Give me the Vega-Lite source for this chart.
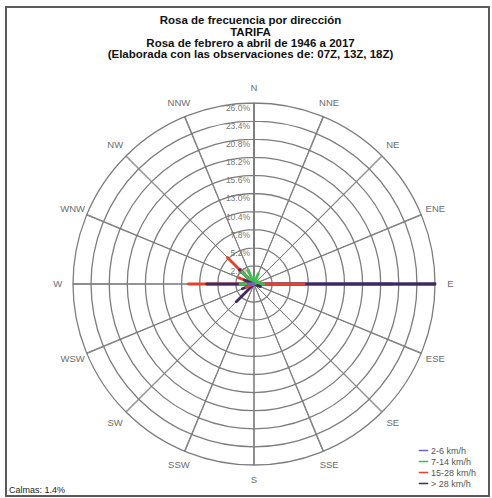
{
  "$schema": "https://vega.github.io/schema/vega-lite/v6.json",
  "width": 483,
  "height": 489,
  "autosize": "none",
  "padding": {"left": 6, "top": 7, "right": 3, "bottom": 2},
  "background": "white",
  "config": {
    "view": {"stroke": "#5a5a5a", "strokeWidth": 2},
    "font": "Liberation Sans"
  },
  "datasets": {
    "rings": [
      {"ring": 2.6, "lab": "2.6%"},
      {"ring": 5.2, "lab": "5.2%"},
      {"ring": 7.8, "lab": "7.8%"},
      {"ring": 10.4, "lab": "10.4%"},
      {"ring": 13.0, "lab": "13.0%"},
      {"ring": 15.6, "lab": "15.6%"},
      {"ring": 18.2, "lab": "18.2%"},
      {"ring": 20.8, "lab": "20.8%"},
      {"ring": 23.4, "lab": "23.4%"},
      {"ring": 26.0, "lab": "26.0%"}
    ],
    "dirs": [
      {"deg": 0, "name": "N"},
      {"deg": 22.5, "name": "NNE"},
      {"deg": 45, "name": "NE"},
      {"deg": 67.5, "name": "ENE"},
      {"deg": 90, "name": "E"},
      {"deg": 112.5, "name": "ESE"},
      {"deg": 135, "name": "SE"},
      {"deg": 157.5, "name": "SSE"},
      {"deg": 180, "name": "S"},
      {"deg": 202.5, "name": "SSW"},
      {"deg": 225, "name": "SW"},
      {"deg": 247.5, "name": "WSW"},
      {"deg": 270, "name": "W"},
      {"deg": 292.5, "name": "WNW"},
      {"deg": 315, "name": "NW"},
      {"deg": 337.5, "name": "NNW"}
    ],
    "rays": [
      {"dir": 90, "cls": "2-6 km/h", "pct": 19.8},
      {"dir": 90, "cls": "> 28 km/h", "pct": 26.0},
      {"dir": 270, "cls": "15-28 km/h", "pct": 9.4},
      {"dir": 90, "cls": "15-28 km/h", "pct": 7.2},
      {"dir": 270, "cls": "> 28 km/h", "pct": 6.8},
      {"dir": 315, "cls": "15-28 km/h", "pct": 5.4},
      {"dir": 225, "cls": "> 28 km/h", "pct": 3.6},
      {"dir": 315, "cls": "> 28 km/h", "pct": 2.9},
      {"dir": 315, "cls": "7-14 km/h", "pct": 2.5},
      {"dir": 292.5, "cls": "15-28 km/h", "pct": 2.4},
      {"dir": 337.5, "cls": "7-14 km/h", "pct": 2.2},
      {"dir": 270, "cls": "7-14 km/h", "pct": 2.0},
      {"dir": 247.5, "cls": "> 28 km/h", "pct": 1.8},
      {"dir": 22.5, "cls": "7-14 km/h", "pct": 1.6},
      {"dir": 292.5, "cls": "> 28 km/h", "pct": 1.5},
      {"dir": 90, "cls": "7-14 km/h", "pct": 1.4},
      {"dir": 247.5, "cls": "15-28 km/h", "pct": 1.2},
      {"dir": 0, "cls": "7-14 km/h", "pct": 1.0},
      {"dir": 112.5, "cls": "> 28 km/h", "pct": 1.0},
      {"dir": 67.5, "cls": "7-14 km/h", "pct": 0.8},
      {"dir": 270, "cls": "2-6 km/h", "pct": 0.8}
    ]
  },
  "layer": [
    {
      "data": {"name": "rings"},
      "mark": {"type": "arc", "filled": false, "stroke": "#7d7d7d", "strokeWidth": 1.3},
      "encoding": {
        "x": {"datum": 0, "type": "quantitative", "scale": {"domain": [-35.624, 33.757], "nice": false, "zero": false}, "axis": null},
        "y": {"datum": 0, "type": "quantitative", "scale": {"domain": [-30.453, 39.79], "nice": false, "zero": false}, "axis": null},
        "theta": {"datum": 0, "type": "quantitative", "scale": {"domain": [0, 360], "range": [0, 6.283185]}},
        "theta2": {"datum": 360},
        "radius": {"field": "ring", "type": "quantitative", "stack": null, "scale": {"type": "linear", "domain": [0, 26], "range": [0, 181], "zero": true, "nice": false}}
      }
    },
    {
      "data": {"name": "dirs"},
      "mark": {"type": "arc", "filled": false, "stroke": "#7d7d7d", "strokeWidth": 1, "thetaOffset": -0.002, "theta2Offset": 0.002},
      "encoding": {
        "x": {"datum": 0, "type": "quantitative"},
        "y": {"datum": 0, "type": "quantitative"},
        "theta": {"field": "deg", "type": "quantitative", "stack": null},
        "theta2": {"field": "deg"},
        "radius": {"datum": 26}
      }
    },
    {
      "data": {"name": "dirs"},
      "mark": {"type": "text", "fontSize": 9.5, "color": "#6d6d6d", "align": "center", "baseline": "middle"},
      "encoding": {
        "x": {"datum": 0, "type": "quantitative"},
        "y": {"datum": 0, "type": "quantitative"},
        "theta": {"field": "deg", "type": "quantitative", "stack": null},
        "radius": {"datum": 28.2},
        "text": {"field": "name"}
      }
    },
    {
      "data": {"name": "rings"},
      "mark": {"type": "text", "fontSize": 8.5, "color": "#777", "align": "right", "baseline": "middle", "dx": -4, "dy": 5},
      "encoding": {
        "x": {"datum": 0, "type": "quantitative"},
        "y": {"datum": 0, "type": "quantitative"},
        "theta": {"datum": 0, "type": "quantitative"},
        "radius": {"field": "ring", "type": "quantitative", "stack": null},
        "text": {"field": "lab"}
      }
    },
    {
      "data": {"name": "rays"},
      "mark": {"type": "arc", "filled": false, "strokeWidth": 2.8, "strokeJoin": "round", "thetaOffset": -0.0015, "theta2Offset": 0.0015},
      "encoding": {
        "x": {"datum": 0, "type": "quantitative"},
        "y": {"datum": 0, "type": "quantitative"},
        "theta": {"field": "dir", "type": "quantitative", "stack": null},
        "theta2": {"field": "dir"},
        "radius": {"field": "pct", "type": "quantitative", "stack": null},
        "color": {
          "field": "cls",
          "type": "nominal",
          "scale": {
            "domain": ["2-6 km/h", "7-14 km/h", "15-28 km/h", "> 28 km/h"],
            "range": ["#6f63c6", "#3fbf4f", "#e8402a", "#3d2a63"]
          },
          "legend": {
            "title": null,
            "orient": "none",
            "legendX": 412,
            "legendY": 438,
            "symbolType": "stroke",
            "symbolSize": 90,
            "symbolStrokeWidth": 1.5,
            "labelFontSize": 9,
            "labelColor": "#555",
            "labelFont": "Liberation Sans",
            "labelOffset": 2,
            "rowPadding": 0
          }
        }
      }
    },
    {
      "data": {"values": [{"t": ["Rosa de frecuencia por dirección", "TARIFA", "Rosa de febrero a abril de 1946 a 2017", "(Elaborada con las observaciones de: 07Z, 13Z, 18Z)"]}]},
      "mark": {"type": "text", "font": "Liberation Sans", "fontSize": 11.5, "fontWeight": "bold", "color": "#111", "align": "center", "baseline": "top", "lineHeight": 11.4},
      "encoding": {
        "x": {"datum": -0.5, "type": "quantitative"},
        "y": {"datum": 38.6, "type": "quantitative"},
        "text": {"field": "t"}
      }
    },
    {
      "data": {"values": [{"t": "Calmas: 1.4%"}]},
      "mark": {"type": "text", "fontSize": 9, "color": "#222", "align": "left", "baseline": "middle"},
      "encoding": {
        "x": {"datum": -35.2, "type": "quantitative"},
        "y": {"datum": -29.6, "type": "quantitative"},
        "text": {"field": "t"}
      }
    }
  ]
}
